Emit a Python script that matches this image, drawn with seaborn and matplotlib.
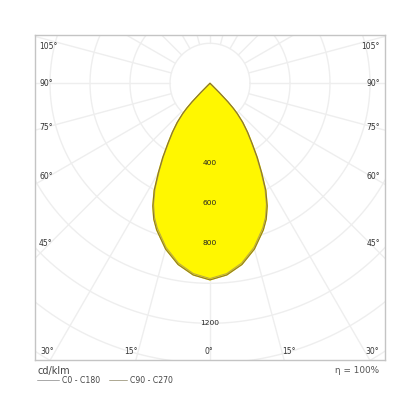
import numpy as np
import pandas as pd
import matplotlib.pyplot as plt
import seaborn as sns

# luminous intensity (cd/klm) against gamma angle, symmetric half-curves
gamma = [0, 5, 10, 15, 20, 22.5, 25, 27.5, 30, 32.5, 35, 37.5, 40, 42, 43, 44, 45, 46, 47, 60, 90]
c0_c180 = [983, 962, 920, 858, 780, 735, 677, 605, 517, 440, 367, 310, 255, 204, 172, 130, 65, 15, 0, 0, 0]
c90_c270 = [976, 955, 912, 849, 770, 725, 667, 595, 508, 432, 360, 303, 249, 199, 167, 126, 62, 14, 0, 0, 0]

ring_values = [200, 400, 600, 800, 1000, 1200, 1400, 1600]
ring_labels = [400, 600, 800, 1200]
spoke_angles = list(range(0, 360, 15))

left_labels = ["105°", "90°", "75°", "60°", "45°"]
left_label_y = [46, 84, 127, 176, 243]
bottom_labels = ["30°", "15°", "0°", "15°", "30°"]
bottom_label_x = [47, 131, 209, 289, 372]

W, H = 420, 419
CX, CY = 210, 83.3        # pole position in pixels
SCALE = 0.2               # pixels per cd/klm
FRAME = (35, 35, 385, 360)


def to_xy(angles_deg, values):
    a = np.radians(angles_deg)
    v = np.asarray(values, dtype=float)
    return v * np.sin(a), -v * np.cos(a)


def full_curve(values):
    ang = np.concatenate([-np.array(gamma[::-1]), np.array(gamma[1:])])
    val = np.concatenate([np.array(values[::-1]), np.array(values[1:])])
    x, y = to_xy(ang, val)
    return pd.DataFrame({"x": x, "y": y})


sns.set_style("white")
plt.rcParams["font.family"] = ["DejaVu Sans"]

fig = plt.figure(figsize=(W / 100, H / 100), dpi=100)
x0, y0, x1, y1 = FRAME
ax = fig.add_axes([x0 / W, 1 - y1 / H, (x1 - x0) / W, (y1 - y0) / H])
ax.set_xlim((x0 - CX) / SCALE, (x1 - CX) / SCALE)
ax.set_ylim((CY - y1) / SCALE, (CY - y0) / SCALE)

# grid: rings and spokes
t = np.linspace(0, 2 * np.pi, 400)
for r in ring_values:
    ax.plot(r * np.cos(t), r * np.sin(t), color="#eeeeee", lw=1.0, zorder=0)
for a in spoke_angles:
    xs, ys = to_xy([a, a], [200, 2200])
    ax.plot(xs, ys, color="#eeeeee", lw=1.0, zorder=0)

# curves
c0 = full_curve(c0_c180)
c90 = full_curve(c90_c270)
ax.fill(c0["x"], c0["y"], color="#fff700", zorder=2)
sns.lineplot(data=c90, x="x", y="y", sort=False, estimator=None,
             color="#b8a84a", lw=0.7, ax=ax, zorder=3)
sns.lineplot(data=c0, x="x", y="y", sort=False, estimator=None,
             color="#8a7530", lw=0.8, ax=ax, zorder=4)

for v in ring_labels:
    ax.text(0, -v, str(v), ha="center", va="center", fontsize=5.4,
            color="#222222", zorder=5)

ax.set_xticks([])
ax.set_yticks([])
ax.set_xlabel("")
ax.set_ylabel("")
for s in ax.spines.values():
    s.set_color("#c4c4c4")
    s.set_linewidth(1.0)

for lab, py in zip(left_labels, left_label_y):
    fig.text(39 / W, 1 - py / H, lab, ha="left", va="center", fontsize=5.5, color="#333333")
    fig.text(380 / W, 1 - py / H, lab, ha="right", va="center", fontsize=5.5, color="#333333")
for lab, px in zip(bottom_labels, bottom_label_x):
    fig.text(px / W, 1 - 351.5 / H, lab, ha="center", va="center", fontsize=5.5, color="#333333")

# footer legend
fig.text(38 / W, 1 - 371 / H, "cd/klm", ha="left", va="center", fontsize=7, color="#444444")
fig.add_artist(plt.Line2D([37 / W, 59 / W], [1 - 380 / H] * 2, color="#9a9a9a", lw=0.6))
fig.text(62 / W, 1 - 380 / H, "C0 - C180", ha="left", va="center", fontsize=5.6, color="#444444")
fig.add_artist(plt.Line2D([109 / W, 127 / W], [1 - 380 / H] * 2, color="#a09a80", lw=0.6))
fig.text(130 / W, 1 - 380 / H, "C90 - C270", ha="left", va="center", fontsize=5.6, color="#444444")
fig.text(379 / W, 1 - 370 / H, "η = 100%", ha="right", va="center", fontsize=6.4, color="#555555")

fig.savefig("out.png", dpi=100, facecolor="white")
